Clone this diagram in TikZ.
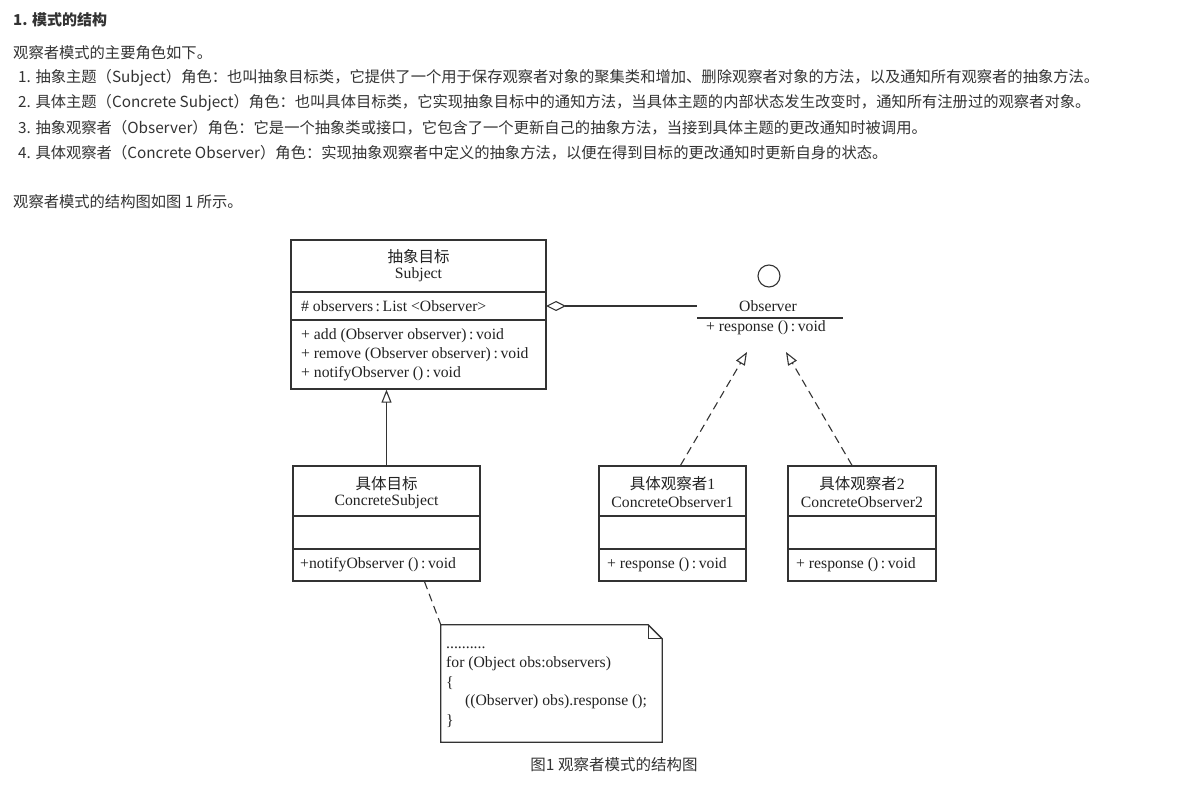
\documentclass[tikz,border=0pt]{standalone}
\usepackage{fontspec}
\setmainfont{Liberation Serif}
\newfontfamily\cjk{Noto Sans CJK SC}
\usetikzlibrary{arrows.meta,calc}
\newcommand\fsz[1]{\fontsize{#1}{#1}\selectfont}
\definecolor{txt}{HTML}{333333}
\definecolor{ln}{HTML}{333333}
\definecolor{dtxt}{HTML}{222222}
\tikzset{
  para/.style={anchor=west,inner sep=0pt,text=txt,font=\cjk\fsz{15.3}},
  box/.style={draw=ln,line width=1.3pt,rectangle,inner sep=0pt},
  ctitle/.style={inner sep=0pt,text=dtxt,font=\fsz{15.7}},
  mline/.style={anchor=west,inner sep=0pt,text=dtxt,font=\fsz{15.7}},
  dv/.style={draw=ln,line width=1.1pt},
  inh/.style={draw=ln,line width=1.1pt,-{Triangle[open,length=13pt,width=10pt]}},
  real/.style={inh,dash pattern=on 8pt off 5pt},
  agg/.style={draw=ln,line width=1.1pt,{Diamond[open,length=20pt,width=10pt]}-},
}
\begin{document}
\begin{tikzpicture}[x=1pt,y=-1pt]
\useasboundingbox[fill=white] (0,0) rectangle (1200,786);
% header text
\node[para,font=\cjk\bfseries\fsz{15}] (h) at (13,20) {1. 模式的结构};
\node[para] (p0) at (13,53) {观察者模式的主要角色如下。};
\node[para] (p1) at (18,78) {1. 抽象主题（Subject）角色：也叫抽象目标类，它提供了一个用于保存观察者对象的聚集类和增加、删除观察者对象的方法，以及通知所有观察者的抽象方法。};
\node[para] (p2) at (18,103) {2. 具体主题（Concrete Subject）角色：也叫具体目标类，它实现抽象目标中的通知方法，当具体主题的内部状态发生改变时，通知所有注册过的观察者对象。};
\node[para] (p3) at (18,128) {3. 抽象观察者（Observer）角色：它是一个抽象类或接口，它包含了一个更新自己的抽象方法，当接到具体主题的更改通知时被调用。};
\node[para] (p4) at (18,153) {4. 具体观察者（Concrete Observer）角色：实现抽象观察者中定义的抽象方法，以便在得到目标的更改通知时更新自身的状态。};
\node[para] (p5) at (13,202) {观察者模式的结构图如图 1 所示。};

% Subject
\node[box,minimum width=255pt,minimum height=149pt] (subj) at (418.5,314.5) {};
\draw[dv] (291,292) -- (546,292);
\draw[dv] (291,320) -- (546,320);
\node[ctitle,font=\cjk\fsz{15.5}] (subjc) at (418.5,257) {抽象目标};
\node[ctitle] (subje) at (418.5,275) {Subject};
\node[mline] (subja) at (301,306) {\# observers\,:\,List <Observer>};
\node[mline] (subjm1) at (301,336) {+ add (Observer observer)\,:\,void};
\node[mline] (subjm2) at (301,355) {+ remove (Observer observer)\,:\,void};
\node[mline] (subjm3) at (301,374) {+ notifyObserver ()\,:\,void};

% Observer interface
\node[draw=ln,line width=1.1pt,circle,minimum size=22pt,inner sep=0pt] (obsc) at (769,276) {};
\node[ctitle] (obsn) at (768,306) {Observer};
\coordinate (ol) at (697,318);
\coordinate (or) at (843,318);
\draw[dv] (ol) -- (or);
\node[ctitle] (obsm) at (766,328) {+ response ()\,:\,void};

% aggregation
\coordinate (aggs) at (546,306);
\draw[agg] (aggs) -- (ol |- aggs);

% ConcreteSubject
\node[box,minimum width=187pt,minimum height=115pt] (cs) at (386.5,523.5) {};
\draw[dv] (293,516) -- (480,516);
\draw[dv] (293,549) -- (480,549);
\node[ctitle,font=\cjk\fsz{15.5}] (csc) at (386.5,484) {具体目标};
\node[ctitle] (cse) at (386.5,502) {ConcreteSubject};
\node[mline] (csm) at (300,565) {+notifyObserver ()\,:\,void};
\draw[inh] (cs.north) -- (cs.north |- subj.south);

% ConcreteObserver1
\node[box,minimum width=147pt,minimum height=115pt] (co1) at (672.5,523.5) {};
\draw[dv] (599,516) -- (746,516);
\draw[dv] (599,549) -- (746,549);
\node[ctitle] (co1c) at (672.5,484) {{\cjk\fsz{15.5}具体观察者}1};
\node[ctitle] (co1e) at (672.5,502) {ConcreteObserver1};
\node[mline] (co1m) at (607,565) {+ response ()\,:\,void};

% ConcreteObserver2
\node[box,minimum width=148pt,minimum height=115pt] (co2) at (862,523.5) {};
\draw[dv] (788,516) -- (936,516);
\draw[dv] (788,549) -- (936,549);
\node[ctitle] (co2c) at (862,484) {{\cjk\fsz{15.5}具体观察者}2};
\node[ctitle] (co2e) at (862,502) {ConcreteObserver2};
\node[mline] (co2m) at (796,565) {+ response ()\,:\,void};

% realizations
\coordinate (t1) at (747,352);
\coordinate (t2) at (786,352);
\draw[real] ($(co1.north)+(8,0)$) -- (t1);
\draw[real] ($(co2.north)+(-10,0)$) -- (t2);

% note
\node[minimum width=221pt,minimum height=117pt,inner sep=0pt] (note) at (551.5,683.5) {};
\draw[draw=ln,line width=1.3pt] (note.north west) -- ([xshift=-14pt]note.north east) -- ([yshift=-14pt]note.north east) -- (note.south east) -- (note.south west) -- cycle;
\draw[draw=ln,line width=1.1pt] ([xshift=-14pt]note.north east) -- ([xshift=-14pt,yshift=-14pt]note.north east) -- ([yshift=-14pt]note.north east);
\node[mline] (n0) at (446,648) {..........};
\node[mline] (n1) at (446,664) {for (Object obs:observers)};
\node[mline] (n2) at (446,683) {\{};
\node[mline] (n3) at (465,702) {((Observer) obs).response ();};
\node[mline] (n4) at (446,721) {\}};
\draw[draw=ln,line width=1.1pt,dash pattern=on 8pt off 5pt] ($(cs.south)+(38,0)$) -- (note.north west);

% caption
\node[inner sep=0pt,text=txt,font=\cjk\fsz{15.5}] (cap) at (614,765) {图1 观察者模式的结构图};
\end{tikzpicture}
\end{document}
